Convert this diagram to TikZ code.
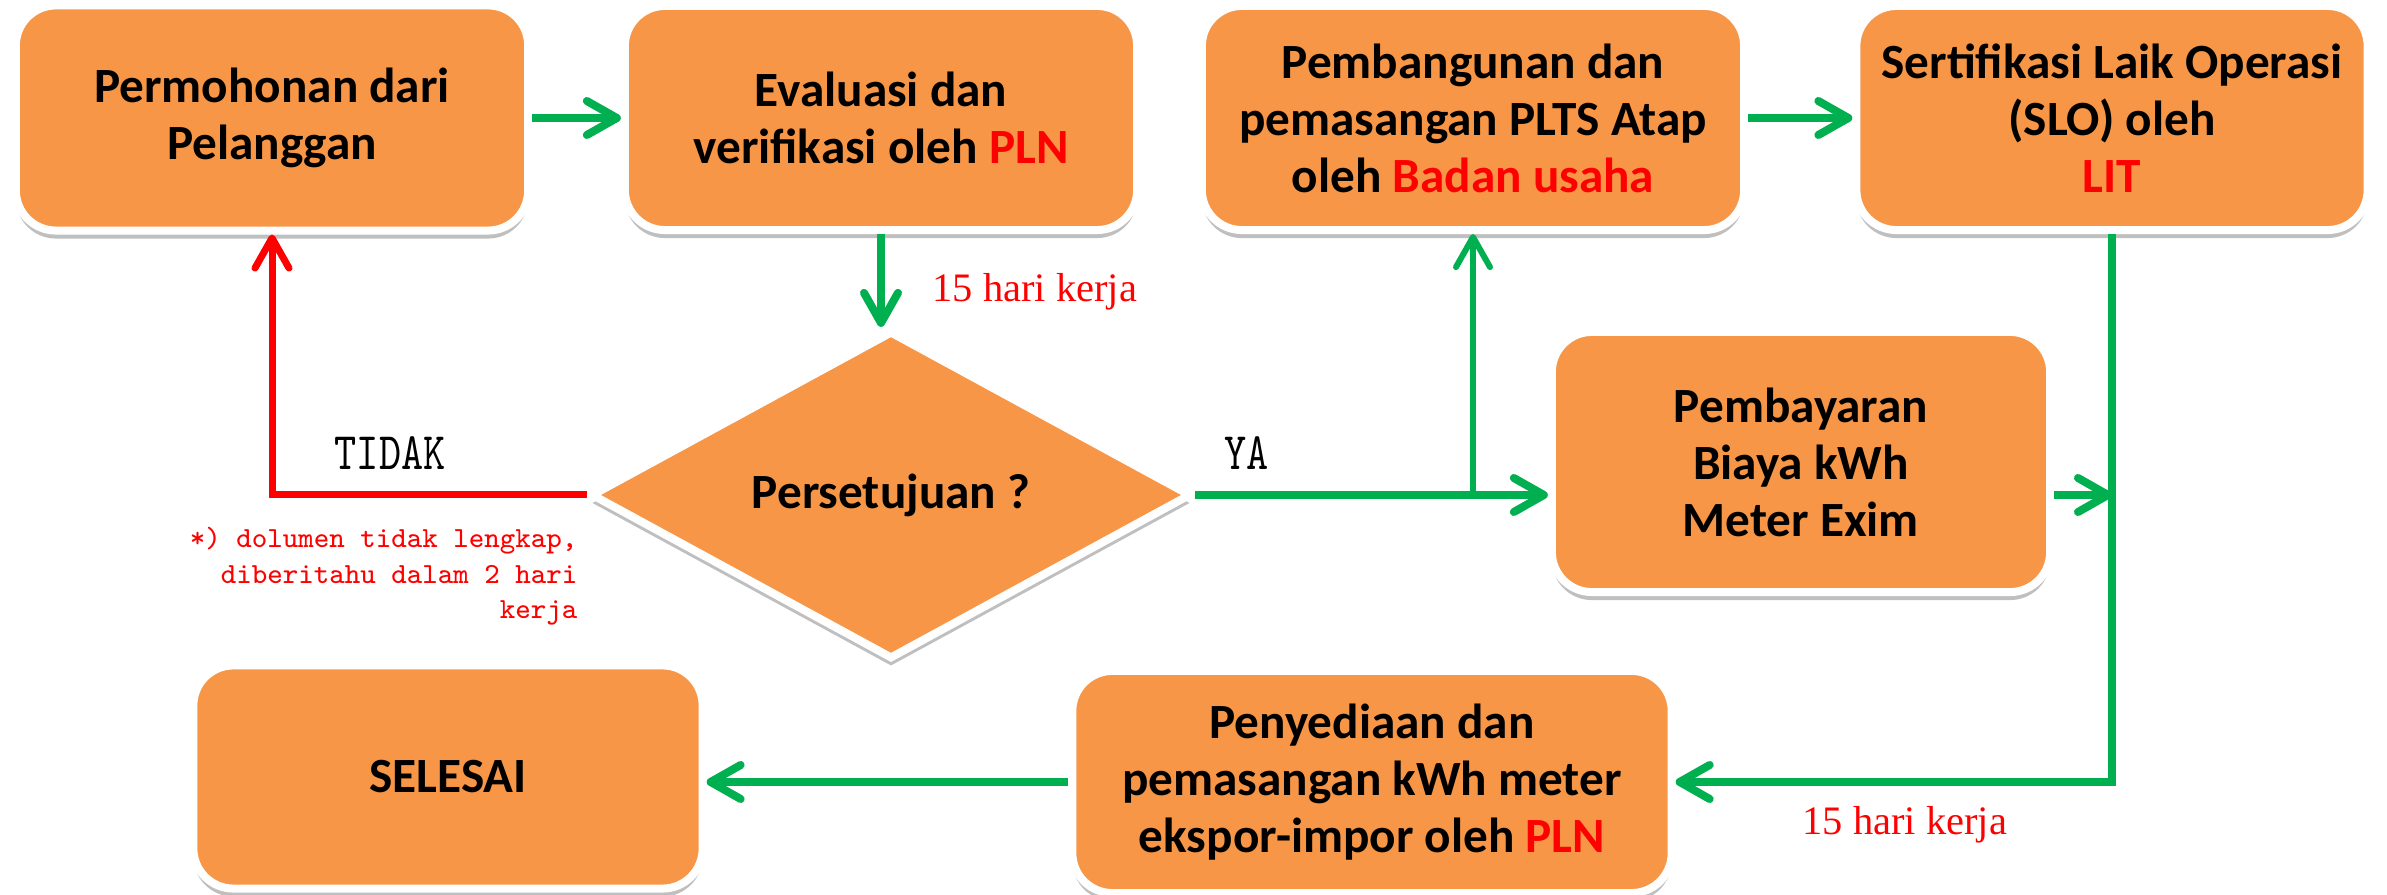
\documentclass[tikz,border=0pt]{standalone}
\usepackage{fontspec}
\setmainfont{Carlito}
\newfontfamily\timesfont{Liberation Serif}
\newfontfamily\answerfont{lmmono10-regular.otf}[FakeStretch=0.8]
\usetikzlibrary{arrows.meta,shapes.geometric,shadows}
\definecolor{boxorange}{HTML}{F79646}
\definecolor{flowgreen}{HTML}{00B050}
\definecolor{nored}{HTML}{FF0000}
\tikzset{
  stepbox/.style={rounded corners=0.4cm, fill=boxorange, draw=white, line width=0.08cm,
    inner sep=0pt, align=center, font=\bfseries\fontsize{14}{16.2}\selectfont,
    drop shadow={shadow xshift=0pt, shadow yshift=-0.08cm, fill=black, opacity=0.25}},
  yesflow/.style={draw=flowgreen, line width=0.08cm, -{Straight Barb[length=0.3cm,width=0.34cm,round]}},
  noflow/.style={draw=nored, line width=0.07cm, -{Straight Barb[length=0.3cm,width=0.34cm,round]}},
  daylabel/.style={text=nored, font=\timesfont\fontsize{11.5}{13}\selectfont, inner sep=0pt, anchor=base west},
  answer/.style={font=\answerfont\fontsize{15}{17}\selectfont, inner sep=0pt, anchor=base west}
}
\begin{document}
\begin{tikzpicture}[x=0.01cm,y=-0.01cm]
  \useasboundingbox (0,0) rectangle (2387,895);
  \node[stepbox, minimum width=5.12cm, minimum height=2.25cm] (req) at (272,118) {Permohonan dari\\Pelanggan};
  \node[stepbox, minimum width=5.12cm, minimum height=2.24cm] (eval) at (881,118) {Evaluasi dan\\verifikasi oleh \textcolor{nored}{PLN}};
  \node[stepbox, minimum width=5.42cm, minimum height=2.24cm] (build) at (1473,118) {Pembangunan dan\\pemasangan PLTS Atap\\oleh \textcolor{nored}{Badan usaha}};
  \node[stepbox, minimum width=5.11cm, minimum height=2.24cm] (slo) at (2112,118) {Sertifikasi Laik Operasi\\(SLO) oleh\\\textcolor{nored}{LIT}};
  \node[stepbox, minimum width=4.98cm, minimum height=2.60cm] (pay) at (1801,462) {Pembayaran\\Biaya kWh\\Meter Exim};
  \node[stepbox, minimum width=5.99cm, minimum height=2.22cm] (meter) at (1372,782) {Penyediaan dan\\pemasangan kWh meter\\ekspor-impor oleh \textcolor{nored}{PLN}};
  \node[stepbox, minimum width=5.09cm, minimum height=2.23cm] (done) at (448,777) {SELESAI};
  \node[stepbox, shape=diamond, sharp corners, aspect=2, minimum width=6.0cm, minimum height=3.28cm] (ok) at (891,495) {Persetujuan ?};
  \draw[yesflow] (req.east) -- (eval.west);
  \draw[yesflow] (eval.south) -- (eval.south |- ok.north);
  \draw[yesflow] (build.east) -- (slo.west);
  \draw[yesflow] (ok.east) -- (ok.east -| pay.west);
  \draw[yesflow, line width=0.06cm] (ok.east -| build.south) -- (build.south);
  \draw[yesflow] (pay.east |- ok.east) -- (slo.south |- ok.east);
  \draw[yesflow] (slo.south) |- (meter.east);
  \draw[yesflow] (meter.west) -- (meter.west -| done.east);
  \draw[noflow] (ok.west) -| (req.south);
  \node[daylabel] (days1) at (932,302) {15 hari kerja};
  \node[daylabel] (days2) at (1802,835) {15 hari kerja};
  \node[answer] (tidak) at (334,470) {TIDAK};
  \node[answer] (ya) at (1224,470) {YA};
  \node[text=nored, font=\ttfamily\fontsize{8.3}{10}\selectfont, align=right, inner sep=0pt, anchor=north east] (note) at (578,527) {*) dolumen tidak lengkap,\\diberitahu dalam 2 hari\\kerja};
\end{tikzpicture}
\end{document}
